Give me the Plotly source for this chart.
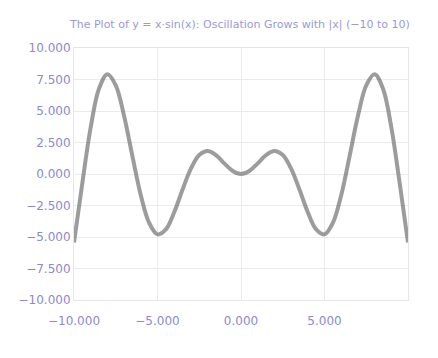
import plotly.graph_objects as go

# Values (curve is even around x = 0)
x_values = [-10.0, -9.5, -9.0, -8.5, -8.0, -7.5, -7.0, -6.5, -6.0, -5.5, -5.0,
            -4.5, -4.0, -3.5, -3.0, -2.5, -2.0, -1.5, -1.0, -0.5, 0.0,
            0.5, 1.0, 1.5, 2.0, 2.5, 3.0, 3.5, 4.0, 4.5, 5.0,
            5.5, 6.0, 6.5, 7.0, 7.5, 8.0, 8.5, 9.0, 9.5, 10.0]
y_values = [-5.44, -0.71, 3.71, 6.79, 7.92, 7.04, 4.60, 1.40, -1.68, -3.88, -4.79,
            -4.40, -3.03, -1.23, 0.42, 1.50, 1.82, 1.50, 0.84, 0.24, 0.00,
            0.24, 0.84, 1.50, 1.82, 1.50, 0.42, -1.23, -3.03, -4.40, -4.79,
            -3.88, -1.68, 1.40, 4.60, 7.04, 7.92, 6.79, 3.71, -0.71, -5.44]

x_tick_vals = [-10, -5, 0, 5]
y_tick_vals = [-10, -7.5, -5, -2.5, 0, 2.5, 5, 7.5, 10]

title_text = "The Plot of y = x·sin(x): Oscillation Grows with |x| (−10 to 10)"

fig = go.Figure()
fig.add_trace(go.Scatter(
    x=x_values, y=y_values, mode="lines",
    line=dict(color="rgba(90,90,90,0.6)", width=4, shape="spline"),
    showlegend=False,
))

label_font = dict(family="DejaVu Sans", size=12, color="#8a8ad0")

# page body has an 8px margin, so the figure is sized to fit the window
fig.update_layout(
    width=430, height=350,
    margin=dict(l=66, r=30, t=40, b=58),
    paper_bgcolor="white", plot_bgcolor="white",
    title=dict(text=title_text, xref="container", yref="container",
               x=62/430, xanchor="left", y=1-16/350, yanchor="middle",
               font=dict(family="DejaVu Sans", size=11, color="#9a9ad8")),
    xaxis=dict(range=[-10, 10], tickvals=x_tick_vals, tickformat=".3f",
               showgrid=True, gridcolor="#ebebeb", gridwidth=1,
               showline=True, mirror=True, linecolor="#e6e6e6", linewidth=1,
               zeroline=False, tickfont=label_font, ticklabelstandoff=10,
               automargin=False),
    yaxis=dict(range=[-10, 10], tickvals=y_tick_vals, tickformat=".3f",
               showgrid=True, gridcolor="#ebebeb", gridwidth=1,
               showline=True, mirror=True, linecolor="#e6e6e6", linewidth=1,
               zeroline=False, tickfont=label_font, automargin=False),
)

fig.write_html("out.html")
